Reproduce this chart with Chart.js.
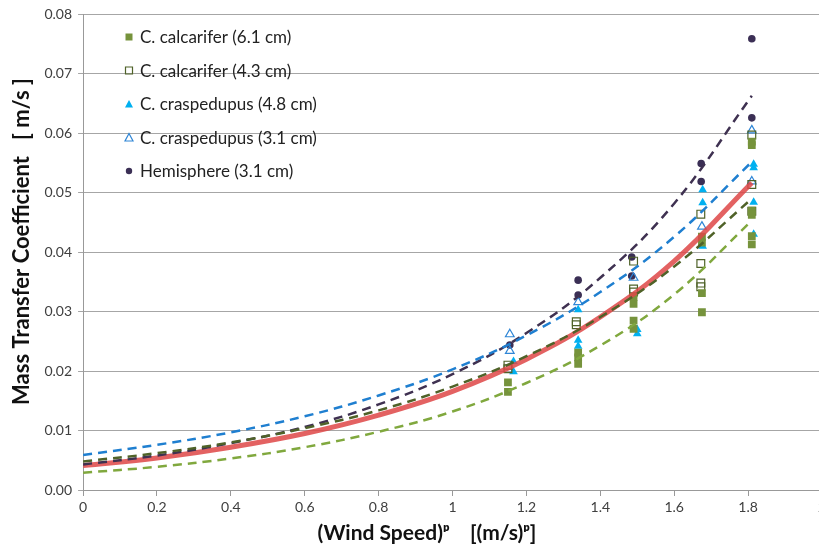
<!DOCTYPE html>
<html>
<head>
<meta charset="utf-8">
<script src="https://cdn.jsdelivr.net/npm/chart.js@4.4.1/dist/chart.umd.min.js"></script>
<style>
  html, body { margin: 0; padding: 0; background: #fff; overflow: hidden; }
  #wrap { width: 840px; height: 550px; }
</style>
</head>
<body>
<div id="wrap"><canvas id="chart" width="840" height="550"></canvas></div>
<script>
// measured points, grouped by wind speed cluster
const calc61X = [1.15, 1.34, 1.49, 1.675, 1.81];
const calc61 = [[0.0181, 0.0165], [0.0231, 0.0223, 0.0212], [0.0325, 0.0313, 0.0285, 0.0271], [0.0426, 0.0416, 0.0331, 0.0299], [0.0586, 0.0580, 0.0470, 0.0463, 0.0427, 0.0413]];
const calc43X = [1.15, 1.335, 1.49, 1.672, 1.81];
const calc43 = [[0.0210, 0.0204], [0.0283, 0.0278], [0.0385, 0.0338, 0.0333], [0.0464, 0.0381, 0.0348, 0.0342], [0.0597, 0.0514, 0.0469]];
const cras48X = [1.165, 1.34, 1.50, 1.677, 1.815];
const cras48 = [[0.0216, 0.0199], [0.0303, 0.0252, 0.0242], [0.0270, 0.0263], [0.0505, 0.0483, 0.0410], [0.0548, 0.0542, 0.0484, 0.0430]];
const cras31X = [1.155, 1.34, 1.49, 1.675, 1.81];
const cras31 = [[0.0262, 0.0234], [0.0316], [0.0357], [0.0443], [0.0605, 0.0519]];
const hemiX = [1.155, 1.34, 1.485, 1.673, 1.81];
const hemi = [[0.0244], [0.0353, 0.0328], [0.0392, 0.0360], [0.0549, 0.0519], [0.0759, 0.0626]];

// trend lines
const trendX = [0, 0.2, 0.4, 0.6, 0.8, 1.0, 1.2, 1.4, 1.6, 1.81];
const fitAll = [0.0041, 0.0054, 0.0072, 0.0095, 0.0126, 0.0166, 0.0220, 0.0291, 0.0385, 0.0517];
const fitHemi = [0.0043, 0.0058, 0.0079, 0.0106, 0.0144, 0.0195, 0.0264, 0.0357, 0.0482, 0.0663];
const fitCras = [0.0059, 0.0076, 0.0097, 0.0124, 0.0159, 0.0203, 0.0260, 0.0333, 0.0426, 0.0552];
const fitDark = [0.0048, 0.0062, 0.0080, 0.0104, 0.0134, 0.0174, 0.0225, 0.0291, 0.0376, 0.0490];
const fitLight = [0.0029, 0.0039, 0.0053, 0.0072, 0.0098, 0.0132, 0.0180, 0.0243, 0.0329, 0.0453];

const xTicks = [0, 0.2, 0.4, 0.6, 0.8, 1, 1.2, 1.4, 1.6, 1.8, 2];

function toPoints(xs, groups) {
    return groups.flatMap((g, i) => g.map(v => ({ x: xs[i], y: v })));
}
function toLine(xs, ys) {
    return xs.map((x, i) => ({ x: x, y: ys[i] }));
}
function trend(data, color, width, dash, order) {
    return {
        data: toLine(trendX, data),
        showLine: true,
        borderColor: color,
        borderWidth: width,
        borderDash: dash,
        pointRadius: 0,
        tension: 0.4,
        fill: false,
        order: order
    };
}

// legend drawn inside the plot, top left
const insideLegend = {
    id: 'insideLegend',
    afterDraw(chart) {
        const ctx = chart.ctx;
        ctx.save();
        ctx.font = '17px Lato';
        ctx.textBaseline = 'middle';
        chart.data.datasets.slice(0, 5).forEach((ds, i) => {
            const y = 37 + i * 33.5;
            ctx.fillStyle = ds.backgroundColor;
            ctx.strokeStyle = ds.borderColor;
            ctx.lineWidth = ds.borderWidth;
            ctx.beginPath();
            if (ds.pointStyle === 'rect') {
                ctx.rect(125.5, y - 3.5, 7, 7);
            } else if (ds.pointStyle === 'triangle') {
                ctx.moveTo(129, y - 4);
                ctx.lineTo(133, y + 3.5);
                ctx.lineTo(125, y + 3.5);
                ctx.closePath();
            } else {
                ctx.arc(129, y, 3.2, 0, Math.PI * 2);
            }
            ctx.fill();
            if (ds.borderWidth) ctx.stroke();
            ctx.fillStyle = '#222';
            ctx.fillText(ds.label, 140, y + 1);
        });
        ctx.restore();
    }
};

new Chart(document.getElementById('chart'), {
    type: 'scatter',
    data: {
        datasets: [
            {
                label: 'C. calcarifer (6.1 cm)',
                data: toPoints(calc61X, calc61),
                pointStyle: 'rect', pointRadius: 5.5,
                backgroundColor: '#76933C', borderColor: '#76933C', borderWidth: 0,
                order: 10
            },
            {
                label: 'C. calcarifer (4.3 cm)',
                data: toPoints(calc43X, calc43),
                pointStyle: 'rect', pointRadius: 5.5,
                backgroundColor: 'rgba(255,255,255,0)', borderColor: '#4F6228', borderWidth: 1.2,
                order: 10
            },
            {
                label: 'C. craspedupus (4.8 cm)',
                data: toPoints(cras48X, cras48),
                pointStyle: 'triangle', pointRadius: 5,
                backgroundColor: '#00B0F0', borderColor: '#00B0F0', borderWidth: 0,
                order: 10
            },
            {
                label: 'C. craspedupus (3.1 cm)',
                data: toPoints(cras31X, cras31),
                pointStyle: 'triangle', pointRadius: 5,
                backgroundColor: 'rgba(255,255,255,0)', borderColor: '#2F86D6', borderWidth: 1.2,
                order: 10
            },
            {
                label: 'Hemisphere (3.1 cm)',
                data: toPoints(hemiX, hemi),
                pointStyle: 'circle', pointRadius: 3.8,
                backgroundColor: '#3B2F55', borderColor: '#3B2F55', borderWidth: 0,
                order: 10
            },
            trend(fitAll, 'rgba(222, 70, 70, 0.85)', 5, [], 5),
            trend(fitLight, '#80A83E', 2.5, [9, 6], 1),
            trend(fitDark, '#4F6228', 2.5, [9, 6], 1),
            trend(fitCras, '#1F7FD0', 2.5, [9, 6], 1),
            trend(fitHemi, '#3F3151', 2.5, [9, 6], 1)
        ]
    },
    options: {
        responsive: false,
        animation: false,
        layout: { padding: { top: 14, right: 18, left: 9, bottom: 4 } },
        plugins: {
            legend: { display: false },
            tooltip: { enabled: false }
        },
        scales: {
            x: {
                type: 'linear',
                min: 0, max: 2,
                afterBuildTicks: axis => { axis.ticks = xTicks.map(v => ({ value: v })); },
                ticks: {
                    font: { family: 'Lato', size: 14 },
                    color: '#404040',
                    padding: 3,
                    maxRotation: 0,
                    callback: v => String(v)
                },
                grid: { drawOnChartArea: false, drawTicks: true, tickLength: 6, color: '#999' },
                border: { color: '#999' },
                title: {
                    display: true,
                    text: '(Wind Speed)\u1D56    [(m/s)\u1D56]          ',
                    font: { family: 'Lato', size: 21, weight: 'bold' },
                    color: '#111',
                    padding: { top: 2, bottom: 0 }
                }
            },
            y: {
                min: 0, max: 0.08,
                ticks: {
                    stepSize: 0.01,
                    font: { family: 'Lato', size: 14 },
                    color: '#404040',
                    padding: 6,
                    callback: v => v.toFixed(2)
                },
                grid: { color: '#A6A6A6', tickLength: 5 },
                border: { color: '#999' },
                title: {
                    display: true,
                    text: '    Mass Transfer Coefficient   [ m/s ]',
                    font: { family: 'Lato', size: 22, weight: 'bold' },
                    color: '#111',
                    padding: { top: 0, bottom: 3 }
                }
            }
        }
    },
    plugins: [insideLegend]
});
</script>
</body>
</html>
